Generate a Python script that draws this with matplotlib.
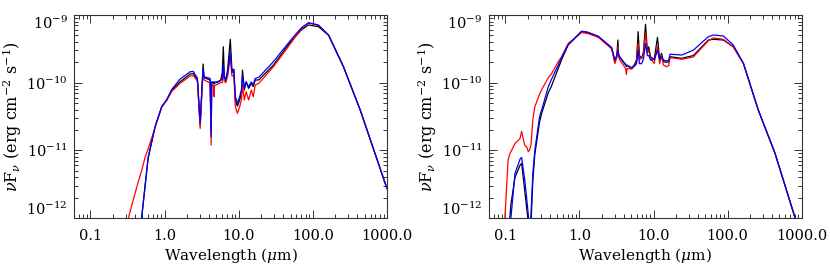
import numpy as np
import matplotlib.pyplot as plt
from matplotlib.ticker import LogLocator, NullFormatter

plt.rcParams["font.family"] = "DejaVu Serif"
plt.rcParams["mathtext.fontset"] = "dejavuserif"

# ---- left panel: wavelength (micron) and log10 of nu F_nu
wave_left = [0.25, 0.30, 0.325, 0.38, 0.44, 0.49, 0.55, 0.60, 0.745, 0.916,
             1.07, 1.25, 1.62, 2.21, 2.45, 2.6, 2.77, 3.02, 3.22, 3.31,
             3.41, 4.11, 4.25, 4.32, 4.6, 4.66, 4.72, 5.1, 5.7, 6.0,
             6.2, 6.4, 6.7, 7.1, 7.7, 8.1, 8.6, 9.0, 9.6, 10.3,
             10.9, 11.25, 11.9, 12.6, 13.6, 14.8, 15.7, 16.7, 18.7, 29.4,
             48.4, 55, 70, 87.5, 119, 163, 259, 436, 1000]
lf_left_black = [-13.8, -13.3, -13.0, -12.6, -12.3, -12.0, -11.48, -11.12, -10.65, -10.356,
                 -10.257, -10.11, -9.987, -9.873, -9.865, -9.913, -9.95, -10.627, -10.0, -9.725,
                 -9.927, -9.962, -10.75, -10.0, -10.0, -10.02, -10.0, -10.0, -9.97, -9.85,
                 -9.469, -9.9, -9.97, -9.8, -9.36, -9.82, -9.80, -10.257, -10.346, -10.257,
                 -10.14, -9.814, -10.109, -9.987, -10.085, -10.01, -10.06, -9.962, -9.96, -9.74,
                 -9.419, -9.35, -9.22, -9.148, -9.173, -9.30, -9.765, -10.405, -11.564]
lf_left_blue = [-14.2, -13.6, -13.3, -12.7, -12.35, -12.0, -11.5, -11.1, -10.65, -10.35,
                -10.25, -10.10, -9.947, -9.839, -9.835, -9.888, -9.93, -10.60, -10.0, -9.80,
                -9.913, -9.937, -10.80, -9.987, -9.99, -10.0, -9.99, -9.99, -9.962, -9.95,
                -9.74, -9.93, -9.96, -9.85, -9.543, -9.85, -9.83, -10.20, -10.306, -10.208,
                -10.10, -9.89, -10.08, -9.99, -10.06, -9.99, -10.03, -9.937, -9.92, -9.69,
                -9.395, -9.321, -9.19, -9.114, -9.148, -9.296, -9.765, -10.405, -11.564]
lf_left_red = [-12.6, -12.18, -12.0, -11.72, -11.47, -11.3, -11.09, -10.98, -10.66, -10.36,
               -10.26, -10.13, -10.01, -9.902, -9.895, -9.937, -9.98, -10.676, -10.05, -9.85,
               -9.96, -10.006, -10.923, -10.04, -10.04, -10.208, -10.04, -10.03, -10.0, -10.0,
               -9.84, -9.98, -10.0, -9.9, -9.62, -9.9, -9.9, -10.35, -10.454, -10.356,
               -10.25, -10.04, -10.257, -10.134, -10.257, -10.109, -10.208, -10.036, -10.01, -9.765,
               -9.444, -9.36, -9.2, -9.12, -9.155, -9.296, -9.765, -10.405, -11.564]

# ---- right panel
wave_right = [0.08, 0.0987, 0.109, 0.115, 0.119, 0.135, 0.158, 0.166, 0.183, 0.194,
              0.204, 0.212, 0.222, 0.235, 0.25, 0.29, 0.31, 0.38, 0.42, 0.518,
              0.575, 0.706, 1.07, 1.3, 1.8, 2.72, 2.86, 3.0, 3.2, 3.3,
              3.38, 3.5, 4.2, 4.3, 4.4, 5.1, 5.6, 5.9, 6.2, 6.45,
              6.9, 7.3, 7.8, 8.25, 8.6, 9.1, 10.2, 11.3, 12.1, 12.8,
              13.6, 15.0, 16.0, 16.7, 24, 34.4, 55, 64, 87.5, 119,
              163, 259, 436, 813, 1000]
lf_right_black = [-13.8, -13.0, -12.5, -12.0, -11.8, -11.4, -11.22, -11.194, -11.6, -11.85,
                  -12.05, -12.3, -12.1, -11.45, -11.06, -10.578, -10.45, -10.15, -10.05, -9.789,
                  -9.66, -9.44, -9.245, -9.26, -9.321, -9.493, -9.59, -9.69, -9.6, -9.37,
                  -9.6, -9.63, -9.74, -9.76, -9.75, -9.79, -9.72, -9.66, -9.247, -9.6,
                  -9.64, -9.55, -9.138, -9.54, -9.47, -9.617, -9.66, -9.33, -9.666, -9.567,
                  -9.69, -9.70, -9.69, -9.617, -9.64, -9.6, -9.37, -9.36, -9.37, -9.47,
                  -9.715, -10.405, -11.046, -12.0, -12.3]
lf_right_blue = [-13.8, -13.0, -12.6, -12.2, -12.0, -11.342, -11.13, -11.105, -11.44, -11.7,
                 -11.95, -12.3, -11.95, -11.35, -11.0, -10.504, -10.40, -10.06, -9.95, -9.74,
                 -9.63, -9.44, -9.24, -9.255, -9.315, -9.48, -9.57, -9.66, -9.6, -9.52,
                 -9.58, -9.617, -9.73, -9.75, -9.74, -9.78, -9.75, -9.72, -9.518, -9.72,
                 -9.72, -9.65, -9.419, -9.6, -9.6, -9.666, -9.66, -9.52, -9.66, -9.62,
                 -9.666, -9.68, -9.67, -9.58, -9.592, -9.52, -9.321, -9.296, -9.31, -9.444,
                 -9.715, -10.405, -11.046, -12.0, -12.3]
lf_right_red = [-13.0, -12.0, -11.145, -11.05, -11.02, -10.9, -10.825, -10.72, -10.93, -10.948,
                -11.02, -11.0, -10.92, -10.55, -10.356, -10.17, -10.1, -9.93, -9.87, -9.69,
                -9.617, -9.42, -9.26, -9.275, -9.33, -9.50, -9.60, -9.72, -9.63, -9.47,
                -9.62, -9.666, -9.79, -9.88, -9.79, -9.80, -9.74, -9.68, -9.42, -9.66,
                -9.64, -9.58, -9.27, -9.56, -9.52, -9.64, -9.715, -9.47, -9.72, -9.6,
                -9.74, -9.765, -9.75, -9.63, -9.655, -9.62, -9.38, -9.34, -9.36, -9.47,
                -9.715, -10.405, -11.046, -12.0, -12.3]

xticks = [0.1, 1.0, 10.0, 100.0, 1000.0]
xtick_labels = ["0.1", "1.0", "10.0", "100.0", "1000.0"]
yticks = [1e-12, 1e-11, 1e-10, 1e-9]
ytick_labels = [r"$10^{-12}$", r"$10^{-11}$", r"$10^{-10}$", r"$10^{-9}$"]


def draw_panel(ax, wave, black, blue, red):
    ax.plot(wave, 10 ** np.array(black), color="black", lw=0.9)
    ax.plot(wave, 10 ** np.array(red), color="#ff0000", lw=0.9)
    ax.plot(wave, 10 ** np.array(blue), color="#0000ff", lw=0.9)
    ax.set_xscale("log")
    ax.set_yscale("log")
    ax.set_xlim(0.06, 1000)
    ax.set_ylim(1e-12, 1e-9)
    ax.set_xticks(xticks)
    ax.set_xticklabels(xtick_labels)
    ax.set_yticks(yticks)
    ax.set_yticklabels(ytick_labels)
    ax.xaxis.set_minor_locator(LogLocator(base=10, subs=np.arange(2, 10) * 1.0, numticks=20))
    ax.yaxis.set_minor_locator(LogLocator(base=10, subs=np.arange(2, 10) * 1.0, numticks=20))
    ax.xaxis.set_minor_formatter(NullFormatter())
    ax.yaxis.set_minor_formatter(NullFormatter())
    ax.tick_params(which="both", direction="in", top=True, right=True,
                   width=0.7, color="#333333")
    ax.tick_params(which="major", length=6)
    ax.tick_params(which="minor", length=3)
    ax.tick_params(axis="x", pad=8, labelsize=10.5)
    ax.tick_params(axis="y", pad=4.5, labelsize=10.5)
    for sp in ax.spines.values():
        sp.set_linewidth(0.8)
        sp.set_color("#333333")
    ticks = ax.yaxis.get_major_ticks()
    ticks[0].label1.set_va("bottom")
    ticks[-1].label1.set_va("top")
    ax.set_xlabel(r"Wavelength ($\mu$m)", fontsize=11, labelpad=2)
    ax.set_ylabel(r"$\nu$F$_{\nu}$ (erg cm$^{-2}$ s$^{-1}$)", fontsize=11.5)
    ax.yaxis.set_label_coords(-0.16, 0.5)


fig = plt.figure(figsize=(8.3, 2.77), dpi=100)
ax1 = fig.add_axes([0.0892, 0.213, 0.377, 0.733])
ax2 = fig.add_axes([0.589, 0.213, 0.377, 0.733])

draw_panel(ax1, wave_left, lf_left_black, lf_left_blue, lf_left_red)
draw_panel(ax2, wave_right, lf_right_black, lf_right_blue, lf_right_red)

fig.savefig("out.png", dpi=100)
